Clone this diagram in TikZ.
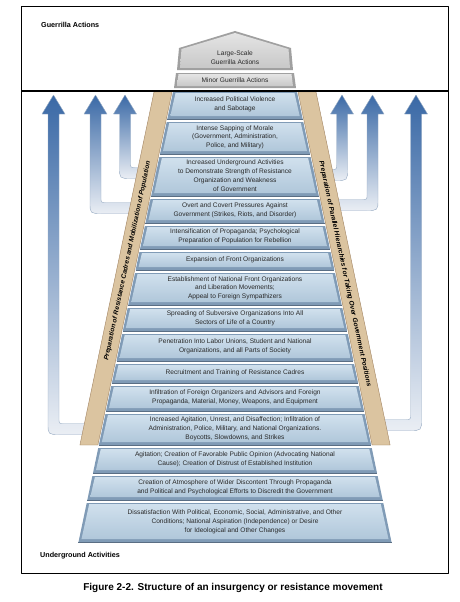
\documentclass[tikz,border=0pt]{standalone}
\usepackage{fontspec}
\setmainfont{Liberation Sans}
\definecolor{rimblue}{RGB}{128,155,182}
\definecolor{facetop}{RGB}{208,224,237}
\definecolor{facebot}{RGB}{176,199,218}
\definecolor{edgeblue}{RGB}{90,110,132}
\definecolor{rimgray}{RGB}{160,160,160}
\definecolor{graytop}{RGB}{228,228,228}
\definecolor{graybot}{RGB}{200,200,200}
\definecolor{tan}{RGB}{219,196,160}
\definecolor{tanedge}{RGB}{160,130,96}
\definecolor{flowtop}{RGB}{58,105,166}
\definecolor{flowmid}{RGB}{108,146,195}
\definecolor{flowbot}{RGB}{234,238,244}
\definecolor{flowedge}{RGB}{150,170,194}
\definecolor{txtgray}{RGB}{40,40,40}

% bent up-arrow: shaft x, bend y, stub end x, side (+1 right, -1 left)
\newcommand{\upflow}[4]{%
  \shade[flow] (#1,95) -- ({#1+11.5*(#4)},114) -- ({#1+5.5*(#4)},114)
    -- ({#1+5.5*(#4)},#2-10) .. controls ({#1+5.5*(#4)},#2-5.5) .. ({#1+10*(#4)},#2-5.5)
    -- (#3,#2-5.5) -- (#3,#2+5.5)
    -- ({#1+6*(#4)},#2+5.5) .. controls ({#1-5.5*(#4)},#2+5.5) .. ({#1-5.5*(#4)},#2-6)
    -- ({#1-5.5*(#4)},114) -- ({#1-11.5*(#4)},114) -- cycle;}

\begin{document}
\begin{tikzpicture}[x=1pt,y=-1pt,line join=round]
\tikzstyle{lbl}=[font=\fontsize{6.6}{8.9}\selectfont,text=txtgray,align=center,inner sep=0pt]
\tikzstyle{head}=[font=\fontsize{7.2}{9}\selectfont\bfseries,anchor=west,inner sep=0pt]
\tikzstyle{side}=[font=\fontsize{6.6}{8}\selectfont\bfseries\itshape,inner sep=0pt]
\tikzstyle{face}=[top color=facetop,bottom color=facebot]
\tikzstyle{gface}=[top color=graytop,bottom color=graybot]
\tikzstyle{band}=[fill=tan,draw=tanedge,line width=.4pt]
\tikzstyle{flow}=[top color=flowtop,middle color=flowmid,bottom color=flowbot,draw=flowedge,line width=.4pt]
\useasboundingbox (0,0) rectangle (460,602);

% frame
\draw[line width=.6pt] (21,6) rectangle (448,573);
\node[head] (ga) at (41,25) {Guerrilla Actions};
\node[head] (ua) at (40,556) {Underground Activities};

% arrows (behind the bands)
\upflow{53.5}{429}{95}{1}
\upflow{95.5}{208}{150}{1}
\upflow{125}{173}{158}{1}
\upflow{342}{175}{312}{-1}
\upflow{372.5}{205}{318}{-1}
\upflow{416}{425}{375}{-1}

% side bands
\draw[band] (154,92) -- (172,92) -- (97.9,445) -- (79.9,445) -- cycle;
\draw[band] (298,92) -- (316,92) -- (390.1,445) -- (372.1,445) -- cycle;
\node[side,rotate=78] (lband) at (127.5,261) {Preparation of Resistance Cadres and Mobilization of Population};
\node[side,rotate=-78] (rband) at (345,274) {Preparation of Parallel Hierarchies for Taking Over Government Positions};

% guerrilla blocks
\fill[rimgray] (177,70) -- (179,48) -- (235,31) -- (291,48) -- (293,70) -- cycle;
\shade[gface] (180,68) -- (181.5,49) -- (235,33) -- (288.5,49) -- (290,68) -- cycle;
\node[lbl] (g1) at (235,58) {Large-Scale\\Guerrilla Actions};
\fill[rimgray] (176,73) -- (294,73) -- (296,88) -- (174,88) -- cycle;
\shade[gface] (178.5,74.2) -- (291.5,74.2) -- (293,86) -- (177,86) -- cycle;
\node[lbl] (g2) at (235,80.5) {Minor Guerrilla Actions};

% underground blocks
\foreach \ytop/\ybot/\txt [count=\i] in {
  92/119/{Increased Political Violence\\and Sabotage},
  122/154/{Intense Sapping of Morale\\(Government, Administration,\\Police, and Military)},
  157/196/{Increased Underground Activities\\to Demonstrate Strength of Resistance\\Organization and Weakness\\of Government},
  199/223/{Overt and Covert Pressures Against\\Government (Strikes, Riots, and Disorder)},
  226/249/{Intensification of Propaganda; Psychological\\Preparation of Population for Rebellion},
  252/270/{Expansion of Front Organizations},
  273/305/{Establishment of National Front Organizations\\and Liberation Movements;\\Appeal to Foreign Sympathizers},
  308/331/{Spreading of Subversive Organizations Into All\\Sectors of Life of a Country},
  334/361/{Penetration Into Labor Unions, Student and National\\Organizations, and all Parts of Society},
  364/383/{Recruitment and Training of Resistance Cadres},
  386/411/{Infiltration of Foreign Organizers and Advisors and Foreign\\Propaganda, Material, Money, Weapons, and Equipment},
  414/445/{Increased Agitation, Unrest, and Disaffection; Infiltration of\\Administration, Police, Military, and National Organizations.\\Boycotts, Slowdowns, and Strikes},
  448/473/{Agitation; Creation of Favorable Public Opinion (Advocating National\\Cause); Creation of Distrust of Established Institution},
  476/500/{Creation of Atmosphere of Wider Discontent Through Propaganda\\and Political and Psychological Efforts to Discredit the Government},
  503/542/{Dissatisfaction With Political, Economic, Social, Administrative, and Other\\Conditions; National Aspiration (Independence) or Desire\\for Ideological and Other Changes}}{
  \pgfmathsetmacro\wt{62+0.21*(\ytop-92)}
  \pgfmathsetmacro\wb{62+0.21*(\ybot-92)}
  \fill[rimblue] (235-\wt,\ytop) -- (235+\wt,\ytop) -- (235+\wb,\ybot) -- (235-\wb,\ybot) -- cycle;
  \shade[face] (235-\wt+2.5,\ytop+1.2) -- (235+\wt-2.5,\ytop+1.2) -- (235+\wb-3,\ybot-3) -- (235-\wb+3,\ybot-3) -- cycle;
  \draw[edgeblue,line width=.5pt] (235-\wb,\ybot) -- (235+\wb,\ybot);
  \node[lbl] (b\i) at (235,{(\ytop+\ybot)/2-0.8}) {\txt};
}

\draw[line width=1.8pt] (21,91) -- (448,91);
\node[font=\fontsize{10}{12}\selectfont\bfseries,inner sep=0pt] (cap) at (233,588) {Figure 2-2. Structure of an insurgency or resistance movement};
\end{tikzpicture}
\end{document}
